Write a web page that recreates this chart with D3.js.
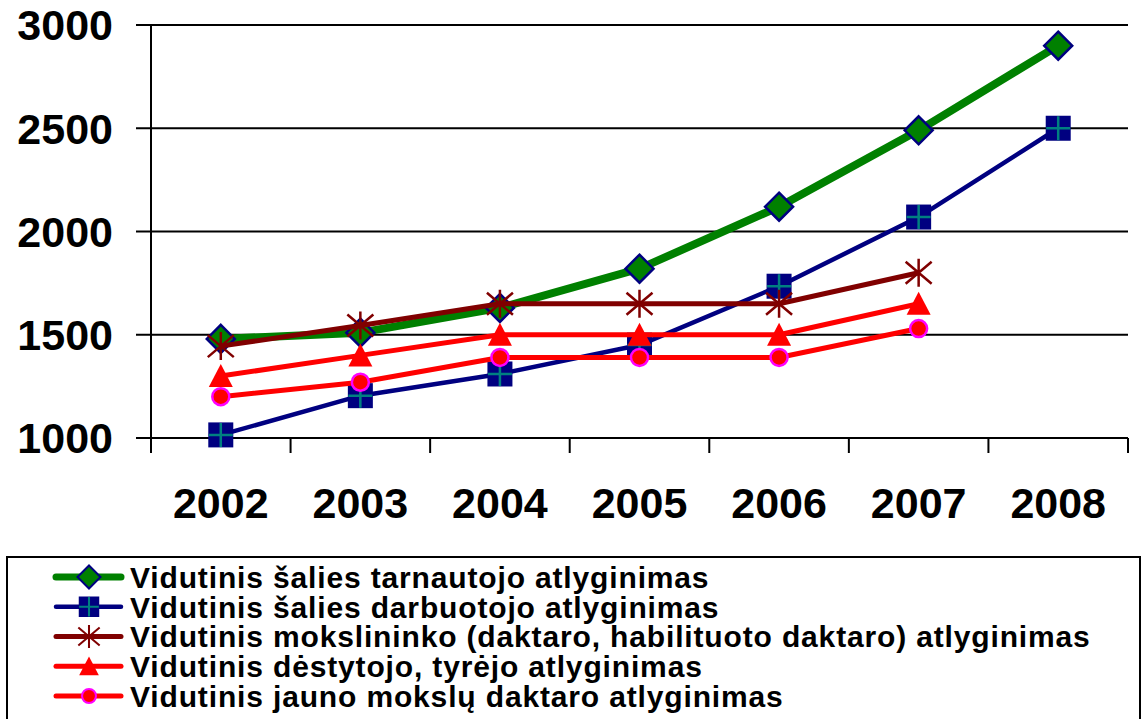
<!DOCTYPE html>
<html>
<head>
<meta charset="utf-8">
<script src="https://cdn.jsdelivr.net/npm/d3@7"></script>
<style>
  body { margin: 0; background: #fff; }
  text { font-family: "Liberation Sans", Arial, sans-serif; font-weight: bold; }
</style>
</head>
<body>
<svg id="chart" width="1141" height="719"></svg>
<script>
const years = ["2002", "2003", "2004", "2005", "2006", "2007", "2008"];
const yTicks = [1000, 1500, 2000, 2500, 3000];

const tarnautojo = [1480, 1510, 1630, 1820, 2120, 2490, 2900];
const darbuotojo = [1015, 1205, 1310, 1450, 1735, 2070, 2500];
const mokslininko = [1445, 1545, 1650, 1650, 1650, 1800, null];
const destytojo = [1300, 1400, 1500, 1500, 1500, 1650, null];
const jaunoDaktaro = [1200, 1270, 1390, 1390, 1390, 1530, null];

const seriesNames = [
  "Vidutinis šalies tarnautojo atlyginimas",
  "Vidutinis šalies darbuotojo atlyginimas",
  "Vidutinis mokslininko (daktaro, habilituoto daktaro) atlyginimas",
  "Vidutinis dėstytojo, tyrėjo atlyginimas",
  "Vidutinis jauno mokslų daktaro atlyginimas"
];

const series = [
  { name: seriesNames[0], values: tarnautojo, color: "#008000", width: 8, marker: "diamond" },
  { name: seriesNames[1], values: darbuotojo, color: "#000080", width: 4.5, marker: "square" },
  { name: seriesNames[2], values: mokslininko, color: "#800000", width: 5, marker: "star" },
  { name: seriesNames[3], values: destytojo, color: "#ff0000", width: 5, marker: "triangle" },
  { name: seriesNames[4], values: jaunoDaktaro, color: "#ff0000", width: 5, marker: "circle" }
];

const svg = d3.select("#chart");
const plotLeft = 151, plotRight = 1128, plotTop = 25, plotBottom = 438;

const x = d3.scaleBand().domain(years).range([plotLeft, plotRight]);
const cx = d => x(d) + x.bandwidth() / 2;
const y = d3.scaleLinear().domain([1000, 3000]).range([plotBottom, plotTop]);

// gridlines + left ticks
svg.append("g")
  .selectAll("line")
  .data(yTicks)
  .join("line")
  .attr("x1", plotLeft - 15).attr("x2", plotRight)
  .attr("y1", d => y(d)).attr("y2", d => y(d))
  .attr("stroke", "#000").attr("stroke-width", 2);

// y axis line
svg.append("line")
  .attr("x1", plotLeft).attr("x2", plotLeft)
  .attr("y1", plotTop).attr("y2", plotBottom + 15)
  .attr("stroke", "#000").attr("stroke-width", 2);

// x ticks between categories
const xTickPos = years.map(d => x(d)).concat([plotRight]);
svg.append("g")
  .selectAll("line")
  .data(xTickPos)
  .join("line")
  .attr("x1", d => d).attr("x2", d => d)
  .attr("y1", plotBottom).attr("y2", plotBottom + 15)
  .attr("stroke", "#000").attr("stroke-width", 2);

// y labels
svg.append("g")
  .selectAll("text")
  .data(yTicks)
  .join("text")
  .attr("x", 113)
  .attr("y", d => y(d))
  .attr("dy", "0.36em")
  .attr("text-anchor", "end")
  .style("font-size", "43px")
  .text(d => d);

// x labels
svg.append("g")
  .selectAll("text")
  .data(years)
  .join("text")
  .attr("x", d => cx(d))
  .attr("y", 503)
  .attr("dy", "0.36em")
  .attr("text-anchor", "middle")
  .style("font-size", "43px")
  .text(d => d);

function drawMarker(g, type) {
  if (type === "diamond") {
    g.append("path").attr("d", "M0,-14L14,0L0,14L-14,0Z")
      .attr("fill", "#008000").attr("stroke", "#000080").attr("stroke-width", 2.5);
  } else if (type === "square") {
    g.append("rect").attr("x", -12.5).attr("y", -12.5).attr("width", 25).attr("height", 25)
      .attr("fill", "#000080");
    g.append("path").attr("d", "M-12,0H12M0,-12V12")
      .attr("stroke", "#008080").attr("stroke-width", 2.5);
  } else if (type === "star") {
    g.append("path").attr("d", "M-13,-11L13,11M-13,11L13,-11M0,-14V14")
      .attr("stroke", "#800000").attr("stroke-width", 2.5).attr("fill", "none");
  } else if (type === "triangle") {
    g.append("path").attr("d", "M0,-12L12,11L-12,11Z").attr("fill", "#ff0000");
  } else if (type === "circle") {
    g.append("circle").attr("r", 8.5)
      .attr("fill", "#ff0000").attr("stroke", "#ff00ff").attr("stroke-width", 2.5);
  }
}

const line = d3.line()
  .defined(d => d.v != null)
  .x(d => cx(d.year))
  .y(d => y(d.v));

series.forEach(s => {
  const pts = years.map((yr, i) => ({ year: yr, v: s.values[i] }));
  const g = svg.append("g");
  g.append("path")
    .datum(pts)
    .attr("d", line)
    .attr("fill", "none")
    .attr("stroke", s.color)
    .attr("stroke-width", s.width)
    .attr("stroke-linejoin", "round");
  pts.filter(p => p.v != null).forEach(p => {
    const m = g.append("g").attr("transform", `translate(${cx(p.year)},${y(p.v)})`);
    drawMarker(m, s.marker);
  });
});

// legend
const legend = svg.append("g");
legend.append("rect")
  .attr("x", 7).attr("y", 557)
  .attr("width", 1133).attr("height", 180)
  .attr("fill", "#fff").attr("stroke", "#000").attr("stroke-width", 2);

const legendY = d3.scaleLinear().domain([0, 4]).range([577, 696]);
series.forEach((s, i) => {
  const ly = legendY(i);
  const row = legend.append("g");
  row.append("line")
    .attr("x1", 56).attr("x2", 121)
    .attr("y1", ly).attr("y2", ly)
    .attr("stroke", s.color).attr("stroke-width", Math.min(s.width, 7))
    .attr("stroke-linecap", "round");
  const m = row.append("g").attr("transform", `translate(89,${ly}) scale(0.82)`);
  drawMarker(m, s.marker);
  row.append("text")
    .attr("x", 130).attr("y", ly)
    .attr("dy", "0.36em")
    .style("font-size", "30px")
    .style("letter-spacing", "0.85px")
    .text(s.name);
});
</script>
</body>
</html>
